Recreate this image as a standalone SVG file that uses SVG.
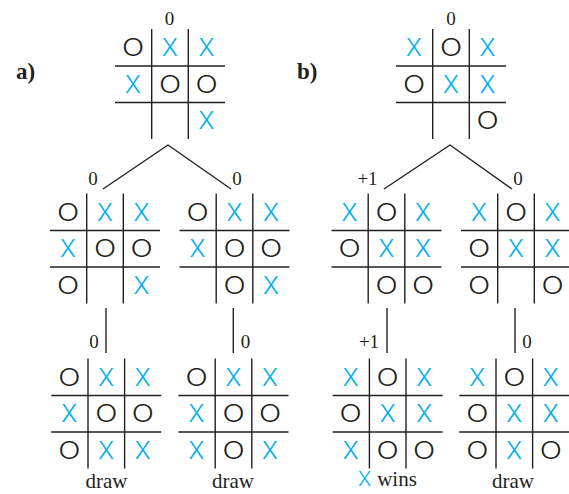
<svg xmlns="http://www.w3.org/2000/svg" xmlns:xlink="http://www.w3.org/1999/xlink" width="569" height="494" viewBox="0 0 569 494">
<style>
.ln{stroke:#231f20;stroke-width:1.4;fill:none}
.x{font-family:Inter,"Liberation Sans",Arial,sans-serif;font-weight:300;font-size:24px;fill:#00aeef;text-anchor:middle}
.o{font-family:Inter,"Liberation Sans",Arial,sans-serif;font-weight:300;font-size:24px;fill:#231f20;text-anchor:middle}
.v{font-family:"Liberation Serif","Times New Roman",serif;font-size:19px;fill:#231f20;text-anchor:middle}
.lb{font-family:"Liberation Serif","Times New Roman",serif;font-size:21px;fill:#231f20;text-anchor:middle}
.pt{font-family:"Liberation Serif","Times New Roman",serif;font-size:23px;font-weight:bold;fill:#231f20}
</style>
<defs>
<g id="grid" class="ln">
<line x1="36.7" y1="0" x2="36.7" y2="110"/>
<line x1="73.3" y1="0" x2="73.3" y2="110"/>
<line x1="0" y1="37" x2="110" y2="37"/>
<line x1="0" y1="73.5" x2="110" y2="73.5"/>
</g>
</defs>
<rect width="569" height="494" fill="#ffffff"/>
<text class="pt" x="16" y="79">a)</text>
<text class="pt" x="297" y="79">b)</text>
<g id="connectors" class="ln">
<polyline points="103,189 168,145 231,189"/>
<polyline points="384,189 450,145 512,189"/>
<line x1="106" y1="308" x2="106" y2="353"/>
<line x1="233.3" y1="308" x2="233.3" y2="353"/>
<line x1="387" y1="308" x2="387" y2="353"/>
<line x1="515" y1="308" x2="515" y2="353"/>
</g>
<g id="labels">
<text class="v" x="169.5" y="25">0</text>
<text class="v" x="451" y="25">0</text>
<text class="v" x="93" y="185">0</text>
<text class="v" x="237" y="185">0</text>
<text class="v" x="367.5" y="185">+1</text>
<text class="v" x="518" y="185">0</text>
<text class="v" x="94" y="348">0</text>
<text class="v" x="245.5" y="348">0</text>
<text class="v" x="369" y="348">+1</text>
<text class="v" x="527" y="348">0</text>
<text class="lb" x="106.5" y="487.5">draw</text>
<text class="lb" x="233" y="487.5">draw</text>
<text class="lb" x="513" y="487.5">draw</text>
<text x="364.5" y="485.5" class="x" style="font-size:20px">X</text>
<text class="lb" x="397" y="486">wins</text>
</g>
<g id="a-root" transform="translate(115,29)">
<use xlink:href="#grid"/>
<text class="o" transform="translate(18,27) scale(1.22,1)">O</text><text class="x" x="55" y="27">X</text><text class="x" x="91.5" y="27">X</text>
<text class="x" x="18" y="63.7">X</text><text class="o" transform="translate(55,63.7) scale(1.22,1)">O</text><text class="o" transform="translate(91.5,63.7) scale(1.22,1)">O</text>
<text class="x" x="91.5" y="100.4">X</text>
</g>
<g id="a-left" transform="translate(50,193.5)">
<use xlink:href="#grid"/>
<text class="o" transform="translate(18,27) scale(1.22,1)">O</text><text class="x" x="55" y="27">X</text><text class="x" x="91.5" y="27">X</text>
<text class="x" x="18" y="63.7">X</text><text class="o" transform="translate(55,63.7) scale(1.22,1)">O</text><text class="o" transform="translate(91.5,63.7) scale(1.22,1)">O</text>
<text class="o" transform="translate(18,100.4) scale(1.22,1)">O</text><text class="x" x="91.5" y="100.4">X</text>
</g>
<g id="a-right" transform="translate(179.5,193.5)">
<use xlink:href="#grid"/>
<text class="o" transform="translate(18,27) scale(1.22,1)">O</text><text class="x" x="55" y="27">X</text><text class="x" x="91.5" y="27">X</text>
<text class="x" x="18" y="63.7">X</text><text class="o" transform="translate(55,63.7) scale(1.22,1)">O</text><text class="o" transform="translate(91.5,63.7) scale(1.22,1)">O</text>
<text class="o" transform="translate(55,100.4) scale(1.22,1)">O</text><text class="x" x="91.5" y="100.4">X</text>
</g>
<g id="a-left-leaf" transform="translate(51.3,358.5)">
<use xlink:href="#grid"/>
<text class="o" transform="translate(18,27) scale(1.22,1)">O</text><text class="x" x="55" y="27">X</text><text class="x" x="91.5" y="27">X</text>
<text class="x" x="18" y="63.7">X</text><text class="o" transform="translate(55,63.7) scale(1.22,1)">O</text><text class="o" transform="translate(91.5,63.7) scale(1.22,1)">O</text>
<text class="o" transform="translate(18,100.4) scale(1.22,1)">O</text><text class="x" x="55" y="100.4">X</text><text class="x" x="91.5" y="100.4">X</text>
</g>
<g id="a-right-leaf" transform="translate(178.5,358.5)">
<use xlink:href="#grid"/>
<text class="o" transform="translate(18,27) scale(1.22,1)">O</text><text class="x" x="55" y="27">X</text><text class="x" x="91.5" y="27">X</text>
<text class="x" x="18" y="63.7">X</text><text class="o" transform="translate(55,63.7) scale(1.22,1)">O</text><text class="o" transform="translate(91.5,63.7) scale(1.22,1)">O</text>
<text class="x" x="18" y="100.4">X</text><text class="o" transform="translate(55,100.4) scale(1.22,1)">O</text><text class="x" x="91.5" y="100.4">X</text>
</g>
<g id="b-root" transform="translate(396,29)">
<use xlink:href="#grid"/>
<text class="x" x="18" y="27">X</text><text class="o" transform="translate(55,27) scale(1.22,1)">O</text><text class="x" x="91.5" y="27">X</text>
<text class="o" transform="translate(18,63.7) scale(1.22,1)">O</text><text class="x" x="55" y="63.7">X</text><text class="x" x="91.5" y="63.7">X</text>
<text class="o" transform="translate(91.5,100.4) scale(1.22,1)">O</text>
</g>
<g id="b-left" transform="translate(331.5,193.5)">
<use xlink:href="#grid"/>
<text class="x" x="18" y="27">X</text><text class="o" transform="translate(55,27) scale(1.22,1)">O</text><text class="x" x="91.5" y="27">X</text>
<text class="o" transform="translate(18,63.7) scale(1.22,1)">O</text><text class="x" x="55" y="63.7">X</text><text class="x" x="91.5" y="63.7">X</text>
<text class="o" transform="translate(55,100.4) scale(1.22,1)">O</text><text class="o" transform="translate(91.5,100.4) scale(1.22,1)">O</text>
</g>
<g id="b-right" transform="translate(461,193.5)">
<use xlink:href="#grid"/>
<text class="x" x="18" y="27">X</text><text class="o" transform="translate(55,27) scale(1.22,1)">O</text><text class="x" x="91.5" y="27">X</text>
<text class="o" transform="translate(18,63.7) scale(1.22,1)">O</text><text class="x" x="55" y="63.7">X</text><text class="x" x="91.5" y="63.7">X</text>
<text class="o" transform="translate(18,100.4) scale(1.22,1)">O</text><text class="o" transform="translate(91.5,100.4) scale(1.22,1)">O</text>
</g>
<g id="b-left-leaf" transform="translate(332.7,358.5)">
<use xlink:href="#grid"/>
<text class="x" x="18" y="27">X</text><text class="o" transform="translate(55,27) scale(1.22,1)">O</text><text class="x" x="91.5" y="27">X</text>
<text class="o" transform="translate(18,63.7) scale(1.22,1)">O</text><text class="x" x="55" y="63.7">X</text><text class="x" x="91.5" y="63.7">X</text>
<text class="x" x="18" y="100.4">X</text><text class="o" transform="translate(55,100.4) scale(1.22,1)">O</text><text class="o" transform="translate(91.5,100.4) scale(1.22,1)">O</text>
</g>
<g id="b-right-leaf" transform="translate(459.3,358.5)">
<use xlink:href="#grid"/>
<text class="x" x="18" y="27">X</text><text class="o" transform="translate(55,27) scale(1.22,1)">O</text><text class="x" x="91.5" y="27">X</text>
<text class="o" transform="translate(18,63.7) scale(1.22,1)">O</text><text class="x" x="55" y="63.7">X</text><text class="x" x="91.5" y="63.7">X</text>
<text class="o" transform="translate(18,100.4) scale(1.22,1)">O</text><text class="x" x="55" y="100.4">X</text><text class="o" transform="translate(91.5,100.4) scale(1.22,1)">O</text>
</g>
</svg>
